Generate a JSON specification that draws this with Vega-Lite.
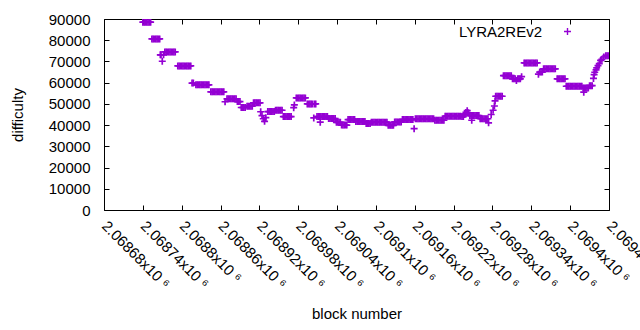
{
"$schema": "https://vega.github.io/schema/vega-lite/v6.json",
"width": 505, "height": 191,
"autosize": "none",
"padding": {"left": 104, "top": 19, "right": 31, "bottom": 120},
"background": "white",
"config": {
  "view": {"stroke": "black", "strokeWidth": 1},
  "font": "Liberation Sans",
  "axis": {"grid": false, "domainColor": "black", "tickColor": "black", "labelColor": "black", "titleColor": "black", "labelFont": "Liberation Sans", "titleFont": "Liberation Sans", "labelFontSize": 15, "titleFontSize": 15, "titleFontWeight": "normal", "tickSize": -5, "tickWidth": 1, "domain": false}
},
"data": {"values": [
{"block":2068740,"difficulty":88500},{"block":2068742,"difficulty":88500},{"block":2068744,"difficulty":88500},{"block":2068746,"difficulty":88500},{"block":2068748,"difficulty":88500},{"block":2068750,"difficulty":88500},{"block":2068752,"difficulty":88500},
{"block":2068754,"difficulty":80600},{"block":2068756,"difficulty":80600},{"block":2068758,"difficulty":80600},{"block":2068760,"difficulty":80600},{"block":2068762,"difficulty":80600},{"block":2068764,"difficulty":80600},{"block":2068766,"difficulty":80600},
{"block":2068767,"difficulty":73100},{"block":2068768,"difficulty":73100},{"block":2068770,"difficulty":70100},{"block":2068772,"difficulty":73100},
{"block":2068774,"difficulty":74500},{"block":2068776,"difficulty":74500},{"block":2068778,"difficulty":74500},{"block":2068780,"difficulty":74500},{"block":2068782,"difficulty":74500},{"block":2068784,"difficulty":74500},{"block":2068786,"difficulty":74500},{"block":2068788,"difficulty":74500},{"block":2068790,"difficulty":74500},
{"block":2068794,"difficulty":67900},{"block":2068796,"difficulty":67900},{"block":2068798,"difficulty":67900},{"block":2068800,"difficulty":67900},{"block":2068802,"difficulty":67900},{"block":2068804,"difficulty":67900},{"block":2068806,"difficulty":67900},{"block":2068808,"difficulty":67900},{"block":2068810,"difficulty":67900},{"block":2068812,"difficulty":67900},{"block":2068814,"difficulty":67900},
{"block":2068816,"difficulty":59800},{"block":2068818,"difficulty":59800},
{"block":2068822,"difficulty":59000},{"block":2068824,"difficulty":59000},{"block":2068826,"difficulty":59000},{"block":2068828,"difficulty":59000},{"block":2068830,"difficulty":59000},{"block":2068832,"difficulty":59000},{"block":2068834,"difficulty":59000},{"block":2068836,"difficulty":59000},{"block":2068838,"difficulty":59000},{"block":2068840,"difficulty":59000},{"block":2068842,"difficulty":59000},
{"block":2068845,"difficulty":55700},{"block":2068847,"difficulty":55700},{"block":2068849,"difficulty":55700},{"block":2068851,"difficulty":55700},{"block":2068853,"difficulty":55700},{"block":2068855,"difficulty":55700},{"block":2068857,"difficulty":55700},{"block":2068859,"difficulty":55700},{"block":2068861,"difficulty":55700},{"block":2068863,"difficulty":55700},{"block":2068865,"difficulty":55700},
{"block":2068867,"difficulty":51000},
{"block":2068870,"difficulty":52400},{"block":2068872,"difficulty":52400},{"block":2068874,"difficulty":52400},{"block":2068876,"difficulty":52400},{"block":2068878,"difficulty":52400},{"block":2068880,"difficulty":52400},{"block":2068882,"difficulty":52400},{"block":2068884,"difficulty":52400},
{"block":2068886,"difficulty":51100},{"block":2068888,"difficulty":51100},{"block":2068890,"difficulty":51100},
{"block":2068892,"difficulty":48300},{"block":2068894,"difficulty":48300},{"block":2068896,"difficulty":48300},{"block":2068898,"difficulty":48300},
{"block":2068901,"difficulty":48900},{"block":2068903,"difficulty":48900},{"block":2068905,"difficulty":48900},{"block":2068907,"difficulty":48900},{"block":2068909,"difficulty":48900},
{"block":2068911,"difficulty":50500},{"block":2068913,"difficulty":50500},{"block":2068915,"difficulty":50500},{"block":2068917,"difficulty":50500},{"block":2068919,"difficulty":50500},{"block":2068921,"difficulty":50500},
{"block":2068922,"difficulty":46300},{"block":2068924,"difficulty":44500},{"block":2068926,"difficulty":43000},{"block":2068928,"difficulty":41800},{"block":2068930,"difficulty":43500},
{"block":2068933,"difficulty":46400},{"block":2068935,"difficulty":46400},{"block":2068937,"difficulty":46400},{"block":2068939,"difficulty":46400},{"block":2068941,"difficulty":46400},{"block":2068943,"difficulty":46400},
{"block":2068945,"difficulty":47000},{"block":2068947,"difficulty":47000},{"block":2068949,"difficulty":47000},{"block":2068951,"difficulty":47000},{"block":2068953,"difficulty":47000},{"block":2068955,"difficulty":47000},
{"block":2068957,"difficulty":44000},{"block":2068959,"difficulty":44000},{"block":2068961,"difficulty":44000},{"block":2068963,"difficulty":44000},{"block":2068965,"difficulty":44000},{"block":2068967,"difficulty":44000},{"block":2068969,"difficulty":44000},
{"block":2068973,"difficulty":48200},{"block":2068974,"difficulty":49500},
{"block":2068977,"difficulty":52800},{"block":2068979,"difficulty":52800},{"block":2068981,"difficulty":52800},{"block":2068983,"difficulty":52800},{"block":2068985,"difficulty":52800},{"block":2068987,"difficulty":52800},{"block":2068989,"difficulty":52800},{"block":2068991,"difficulty":52800},
{"block":2068994,"difficulty":50000},{"block":2068996,"difficulty":50000},{"block":2068998,"difficulty":50000},{"block":2069000,"difficulty":50000},{"block":2069002,"difficulty":50000},{"block":2069005,"difficulty":50000},{"block":2069007,"difficulty":50000},
{"block":2069004,"difficulty":43400},{"block":2069014,"difficulty":41400},
{"block":2069009,"difficulty":44000},{"block":2069011,"difficulty":44000},{"block":2069013,"difficulty":44000},{"block":2069015,"difficulty":44000},{"block":2069017,"difficulty":44000},{"block":2069019,"difficulty":44000},{"block":2069021,"difficulty":44000},{"block":2069023,"difficulty":44000},{"block":2069025,"difficulty":44000},
{"block":2069027,"difficulty":43100},{"block":2069029,"difficulty":43100},{"block":2069031,"difficulty":43100},{"block":2069033,"difficulty":43100},{"block":2069035,"difficulty":43100},{"block":2069037,"difficulty":43100},
{"block":2069039,"difficulty":41300},{"block":2069041,"difficulty":41300},{"block":2069043,"difficulty":41300},{"block":2069045,"difficulty":41300},
{"block":2069047,"difficulty":40000},{"block":2069049,"difficulty":40000},{"block":2069051,"difficulty":40000},{"block":2069053,"difficulty":40000},{"block":2069055,"difficulty":40000},
{"block":2069057,"difficulty":42600},{"block":2069059,"difficulty":42600},{"block":2069061,"difficulty":42600},{"block":2069063,"difficulty":42600},{"block":2069065,"difficulty":42600},{"block":2069067,"difficulty":42600},
{"block":2069069,"difficulty":41700},{"block":2069071,"difficulty":41700},{"block":2069073,"difficulty":41700},{"block":2069075,"difficulty":41700},{"block":2069077,"difficulty":41700},{"block":2069079,"difficulty":41700},{"block":2069081,"difficulty":41700},{"block":2069083,"difficulty":41700},
{"block":2069085,"difficulty":40800},{"block":2069087,"difficulty":40800},{"block":2069089,"difficulty":40800},{"block":2069091,"difficulty":40800},
{"block":2069093,"difficulty":41400},{"block":2069095,"difficulty":41400},{"block":2069097,"difficulty":41400},{"block":2069099,"difficulty":41400},{"block":2069101,"difficulty":41400},{"block":2069103,"difficulty":41400},{"block":2069105,"difficulty":41400},{"block":2069107,"difficulty":41400},{"block":2069109,"difficulty":41400},{"block":2069111,"difficulty":41400},{"block":2069113,"difficulty":41400},{"block":2069115,"difficulty":41400},{"block":2069117,"difficulty":41400},
{"block":2069119,"difficulty":39900},{"block":2069121,"difficulty":39900},{"block":2069123,"difficulty":39900},{"block":2069125,"difficulty":39900},{"block":2069127,"difficulty":39900},
{"block":2069129,"difficulty":41500},{"block":2069131,"difficulty":41500},{"block":2069133,"difficulty":41500},{"block":2069135,"difficulty":41500},{"block":2069137,"difficulty":41500},{"block":2069139,"difficulty":41500},
{"block":2069141,"difficulty":42600},{"block":2069143,"difficulty":42600},{"block":2069145,"difficulty":42600},{"block":2069147,"difficulty":42600},{"block":2069149,"difficulty":42600},{"block":2069151,"difficulty":42600},{"block":2069153,"difficulty":42600},{"block":2069155,"difficulty":42600},{"block":2069157,"difficulty":42600},
{"block":2069159,"difficulty":38300},
{"block":2069161,"difficulty":43000},{"block":2069163,"difficulty":43000},{"block":2069165,"difficulty":43000},{"block":2069167,"difficulty":43000},{"block":2069169,"difficulty":43000},{"block":2069171,"difficulty":43000},{"block":2069173,"difficulty":43000},{"block":2069175,"difficulty":43000},{"block":2069177,"difficulty":43000},{"block":2069179,"difficulty":43000},{"block":2069181,"difficulty":43000},{"block":2069183,"difficulty":43000},{"block":2069185,"difficulty":43000},{"block":2069187,"difficulty":43000},{"block":2069189,"difficulty":43000},
{"block":2069191,"difficulty":42300},{"block":2069193,"difficulty":42300},{"block":2069195,"difficulty":42300},{"block":2069197,"difficulty":42300},{"block":2069199,"difficulty":42300},{"block":2069201,"difficulty":42300},{"block":2069203,"difficulty":42300},{"block":2069205,"difficulty":42300},
{"block":2069207,"difficulty":44200},{"block":2069209,"difficulty":44200},{"block":2069211,"difficulty":44200},{"block":2069213,"difficulty":44200},{"block":2069215,"difficulty":44200},{"block":2069217,"difficulty":44200},{"block":2069219,"difficulty":44200},{"block":2069221,"difficulty":44200},{"block":2069223,"difficulty":44200},{"block":2069225,"difficulty":44200},{"block":2069227,"difficulty":44200},{"block":2069229,"difficulty":44200},{"block":2069231,"difficulty":44200},
{"block":2069233,"difficulty":44000},{"block":2069235,"difficulty":44000},{"block":2069237,"difficulty":45000},{"block":2069239,"difficulty":46000},{"block":2069241,"difficulty":46800},{"block":2069243,"difficulty":45800},
{"block":2069245,"difficulty":44500},{"block":2069247,"difficulty":44500},{"block":2069249,"difficulty":44500},{"block":2069251,"difficulty":44500},{"block":2069253,"difficulty":44500},{"block":2069255,"difficulty":44500},{"block":2069257,"difficulty":44500},{"block":2069259,"difficulty":44500},
{"block":2069248,"difficulty":42300},
{"block":2069261,"difficulty":43000},{"block":2069263,"difficulty":43000},{"block":2069265,"difficulty":43000},{"block":2069267,"difficulty":43000},{"block":2069269,"difficulty":43000},{"block":2069271,"difficulty":43000},{"block":2069273,"difficulty":43000},{"block":2069274,"difficulty":41100},
{"block":2069278,"difficulty":45000},{"block":2069281,"difficulty":47000},{"block":2069283,"difficulty":49000},{"block":2069284,"difficulty":51400},
{"block":2069285,"difficulty":53600},{"block":2069287,"difficulty":53600},{"block":2069289,"difficulty":53600},{"block":2069291,"difficulty":53600},{"block":2069293,"difficulty":53600},{"block":2069295,"difficulty":53600},
{"block":2069297,"difficulty":63300},{"block":2069299,"difficulty":63300},{"block":2069301,"difficulty":63300},{"block":2069303,"difficulty":63300},{"block":2069305,"difficulty":63300},{"block":2069307,"difficulty":63300},{"block":2069309,"difficulty":63300},
{"block":2069311,"difficulty":61800},{"block":2069313,"difficulty":61800},{"block":2069315,"difficulty":61800},{"block":2069317,"difficulty":61000},{"block":2069319,"difficulty":61800},{"block":2069321,"difficulty":61800},{"block":2069323,"difficulty":61800},{"block":2069325,"difficulty":62800},
{"block":2069329,"difficulty":69300},{"block":2069331,"difficulty":69300},{"block":2069333,"difficulty":69300},{"block":2069335,"difficulty":69300},{"block":2069337,"difficulty":69300},{"block":2069339,"difficulty":69300},{"block":2069341,"difficulty":69300},{"block":2069343,"difficulty":69300},{"block":2069345,"difficulty":69300},{"block":2069347,"difficulty":69300},{"block":2069349,"difficulty":69300},
{"block":2069351,"difficulty":64000},{"block":2069353,"difficulty":65000},{"block":2069355,"difficulty":65000},{"block":2069357,"difficulty":65000},
{"block":2069359,"difficulty":66500},{"block":2069361,"difficulty":66500},{"block":2069363,"difficulty":66500},{"block":2069365,"difficulty":66500},{"block":2069367,"difficulty":66500},{"block":2069369,"difficulty":66500},{"block":2069371,"difficulty":66500},{"block":2069373,"difficulty":66500},{"block":2069375,"difficulty":66500},{"block":2069377,"difficulty":66500},
{"block":2069380,"difficulty":61800},{"block":2069382,"difficulty":61800},{"block":2069384,"difficulty":61800},{"block":2069386,"difficulty":61800},{"block":2069388,"difficulty":61800},{"block":2069390,"difficulty":61800},{"block":2069392,"difficulty":61800},
{"block":2069394,"difficulty":58300},{"block":2069396,"difficulty":58300},{"block":2069398,"difficulty":58300},{"block":2069400,"difficulty":58300},{"block":2069402,"difficulty":58300},{"block":2069404,"difficulty":58300},{"block":2069406,"difficulty":58300},{"block":2069408,"difficulty":58300},{"block":2069410,"difficulty":58300},{"block":2069412,"difficulty":58300},{"block":2069414,"difficulty":58300},{"block":2069416,"difficulty":58300},{"block":2069418,"difficulty":58300},
{"block":2069420,"difficulty":57500},{"block":2069422,"difficulty":57500},{"block":2069424,"difficulty":57500},{"block":2069426,"difficulty":57500},{"block":2069428,"difficulty":57500},{"block":2069421,"difficulty":55500},
{"block":2069430,"difficulty":58600},{"block":2069432,"difficulty":58600},{"block":2069434,"difficulty":58600},
{"block":2069436,"difficulty":62000},{"block":2069437,"difficulty":63800},{"block":2069438,"difficulty":64900},{"block":2069440,"difficulty":66000},{"block":2069441,"difficulty":67000},{"block":2069443,"difficulty":68000},{"block":2069445,"difficulty":69000},{"block":2069447,"difficulty":70500},{"block":2069449,"difficulty":71000},{"block":2069452,"difficulty":72100},{"block":2069455,"difficulty":72700},{"block":2069457,"difficulty":72700},{"block":2069459,"difficulty":72700}
]},
"layer": [
  {
    "mark": {"type": "point", "shape": "M-1,0H1M0,-1V1", "filled": false, "strokeWidth": 1.7, "size": 49, "opacity": 1, "clip": true},
    "encoding": {
      "x": {"field": "block", "type": "quantitative",
        "scale": {"domain": [2068680, 2069460], "nice": false, "zero": false},
        "axis": {"title": "block number", "values": [2068680,2068740,2068800,2068860,2068920,2068980,2069040,2069100,2069160,2069220,2069280,2069340,2069400,2069460],
          "labelExpr": "format(datum.value / 1000000, '.5~f') + 'x10 ⁶'",
          "labelAngle": 45, "labelAlign": "left", "labelBaseline": "middle", "labelPadding": 18, "labelFlush": false, "labelOverlap": false, "labelBound": false, "titlePadding": 15}},
      "y": {"field": "difficulty", "type": "quantitative",
        "scale": {"domain": [0, 90000], "nice": false},
        "axis": {"title": "difficulty", "values": [0,10000,20000,30000,40000,50000,60000,70000,80000,90000], "format": "d", "labelPadding": 19, "titlePadding": 23}},
      "color": {"datum": "LYRA2REv2", "type": "nominal", "scale": {"range": ["#9400D3"]},
        "legend": {"orient": "none", "legendX": 456, "legendY": 5, "title": null, "padding": 0, "labelFont": "Liberation Sans", "labelFontSize": 15, "labelColor": "black", "labelAlign": "right", "labelOffset": -33, "symbolType": "M-1,0H1M0,-1V1", "symbolSize": 49, "symbolStrokeWidth": 1.4, "symbolStrokeColor": "#9400D3", "symbolFillColor": "transparent"}}
    }
  },
  {
    "mark": {"type": "point", "opacity": 0},
    "encoding": {
      "x": {"field": "block", "type": "quantitative",
        "axis": {"orient": "top", "title": null, "labels": false, "values": [2068680,2068740,2068800,2068860,2068920,2068980,2069040,2069100,2069160,2069220,2069280,2069340,2069400,2069460]}},
      "y": {"field": "difficulty", "type": "quantitative",
        "axis": {"orient": "right", "title": null, "labels": false, "values": [0,10000,20000,30000,40000,50000,60000,70000,80000,90000]}}
    }
  }
],
"resolve": {"axis": {"x": "independent", "y": "independent"}}
}
